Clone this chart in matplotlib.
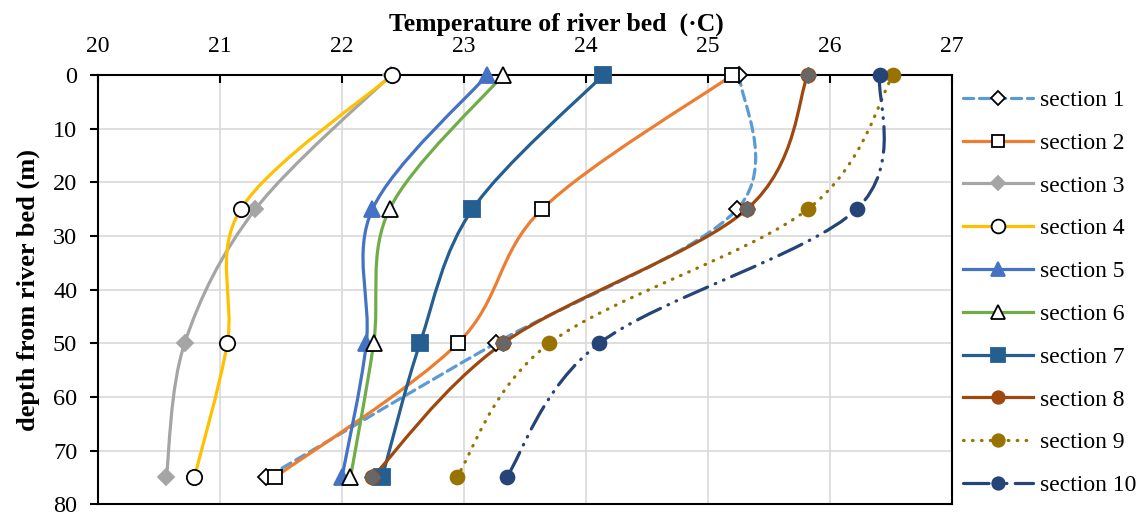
import numpy as np
import matplotlib.pyplot as plt
from matplotlib.path import Path
from matplotlib.patches import PathPatch
from matplotlib.lines import Line2D

plt.rcParams['font.family'] = ['Liberation Serif', 'DejaVu Serif']

# depth of the measuring points (m)
depth = [0, 25, 50, 75]

# river bed temperature (C) per section at each depth
sec1 = [25.26, 25.24, 23.26, 21.38]
sec2 = [25.20, 23.64, 22.95, 21.45]
sec3 = [22.40, 21.29, 20.71, 20.56]
sec4 = [22.41, 21.17, 21.06, 20.79]
sec5 = [23.19, 22.25, 22.20, 22.00]
sec6 = [23.32, 22.39, 22.26, 22.07]
sec7 = [24.14, 23.07, 22.64, 22.33]
sec8 = [25.82, 25.32, 23.32, 22.25]
sec9 = [26.52, 25.82, 23.70, 22.94]
sec10 = [26.41, 26.22, 24.11, 23.35]

names = ['section %d' % i for i in range(1, 11)]
temps = [sec1, sec2, sec3, sec4, sec5, sec6, sec7, sec8, sec9, sec10]

# style per series: line colour, line style, marker, marker face, marker edge, size
styles = [
    ('#5B9BD5', (0, (3.2, 1.8)), 'D', 'white', 'black', 8),
    ('#ED7D31', '-', 's', 'white', 'black', 10),
    ('#A5A5A5', '-', 'D', '#A5A5A5', '#A5A5A5', 8),
    ('#FFC000', '-', 'o', 'white', 'black', 11),
    ('#4472C4', '-', '^', '#4472C4', '#4472C4', 11),
    ('#70AD47', '-', '^', 'white', 'black', 11),
    ('#255E91', '-', 's', '#255E91', '#255E91', 11),
    ('#9E480E', '-', 'o', '#9E480E', '#9E480E', 10),
    ('#997300', (0, (0.2, 2.6)), 'o', '#997300', '#997300', 10),
    ('#264478', (0, (8, 2.6, 0.2, 2.6, 0.2, 2.6)), 'o', '#264478', '#264478', 10),
]


# smooth line through the points like excel does (catmull-rom as bezier)
def smooth_path(xs, ys):
    pts = np.column_stack([xs, ys]).astype(float)
    n = len(pts)
    verts = [pts[0]]
    codes = [Path.MOVETO]
    for i in range(n - 1):
        p_prev = pts[i - 1] if i > 0 else pts[i]
        p_next = pts[i + 2] if i + 2 < n else pts[i + 1]
        c1 = pts[i] + (pts[i + 1] - p_prev) / 6.0
        c2 = pts[i + 1] - (p_next - pts[i]) / 6.0
        verts += [c1, c2, pts[i + 1]]
        codes += [Path.CURVE4] * 3
    return Path(verts, codes)


fig = plt.figure(figsize=(11.48, 5.15), dpi=100)
ax = fig.add_axes([0.0854, 0.021, 0.7436, 0.833])

handles = []
for name, t, st in zip(names, temps, styles):
    color, ls, mk, mfc, mec, ms = st
    patch = PathPatch(smooth_path(t, depth), facecolor='none', edgecolor=color,
                      linewidth=2.3, linestyle=ls, capstyle='round')
    ax.add_patch(patch)
    ax.plot(t, depth, linestyle='none', marker=mk, markersize=ms,
            markerfacecolor=mfc, markeredgecolor=mec, markeredgewidth=1.3,
            clip_on=False, zorder=3)
    handles.append(Line2D([0], [0], color=color, linewidth=2.3, linestyle=ls,
                          marker=mk, markersize=ms * 0.9, markerfacecolor=mfc,
                          markeredgecolor=mec, markeredgewidth=1.3,
                          dash_capstyle='round'))

# grey diamonds sitting on top of section 8 in the original
ax.plot(sec8, depth, linestyle='none', marker='D', markersize=8,
        markerfacecolor='#676767', markeredgecolor='#676767', clip_on=False, zorder=4)

ax.set_xlim(20, 27)
ax.set_ylim(80, 0)
ax.xaxis.tick_top()
ax.xaxis.set_label_position('top')
ax.set_xticks(np.arange(20, 28, 1))
ax.set_yticks(np.arange(0, 90, 10))
ax.grid(True, color='#D9D9D9', linewidth=1.2)
ax.set_axisbelow(True)
ax.tick_params(axis='x', direction='in', length=6, width=1.5, labelsize=17, pad=13)
ax.tick_params(axis='y', direction='out', length=6, width=1.5, labelsize=17.5, pad=9)
for sp in ax.spines.values():
    sp.set_linewidth(1.5)

ax.set_xlabel('Temperature of river bed  (·C)', fontsize=18.5, fontweight='bold', labelpad=4)
ax.xaxis.label.set_x(0.537)
ax.set_ylabel('depth from river bed (m)', fontsize=19, fontweight='bold', labelpad=9)

fig.legend(handles, names, loc='upper left', bbox_to_anchor=(0.839, 0.826),
           frameon=False, fontsize=17, handlelength=2.97, labelspacing=0.9,
           handletextpad=0.3, borderaxespad=0, borderpad=0)

fig.savefig('out.png', dpi=100)
